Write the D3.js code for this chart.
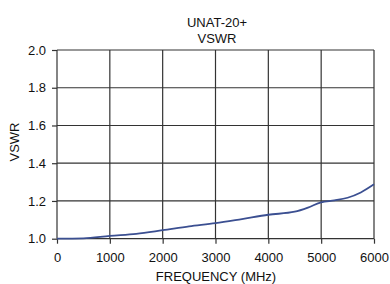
<!DOCTYPE html>
<html><head><meta charset="utf-8">
<script src="https://cdn.jsdelivr.net/npm/d3@7"></script>
<style>body{margin:0;background:#fff}svg{display:block}text{font-family:"Liberation Sans",Arial,sans-serif;fill:#111}</style>
</head><body><svg id="c" width="390" height="284"></svg>
<script>
const freq = [0, 500, 1000, 1500, 2000, 2500, 3000, 3500, 4000, 4500, 4750, 5000, 5250, 5500, 5750, 6000];
const vswr = [1.0, 1.002, 1.015, 1.026, 1.045, 1.065, 1.082, 1.104, 1.127, 1.143, 1.165, 1.193, 1.203, 1.217, 1.245, 1.288];
const xTicks = [0, 1000, 2000, 3000, 4000, 5000, 6000];
const yTicks = [1.0, 1.2, 1.4, 1.6, 1.8, 2.0];
const titleLines = ["UNAT-20+", "VSWR"];

const svg = d3.select("#c");
const x = d3.scaleLinear().domain([0, 6000]).range([57, 374]);
const y = d3.scaleLinear().domain([1.0, 2.0]).range([238.7, 50]);

// grid
svg.append("g").selectAll("line").data(xTicks).join("line")
  .attr("x1", d => x(d)).attr("x2", d => x(d)).attr("y1", y(2.0)).attr("y2", y(1.0))
  .attr("stroke", "#333").attr("stroke-width", 1.2);
svg.append("g").selectAll("line").data(yTicks).join("line")
  .attr("x1", x(0)).attr("x2", x(6000)).attr("y1", d => y(d)).attr("y2", d => y(d))
  .attr("stroke", "#333").attr("stroke-width", 1.2);

// axes
const xa = svg.append("g").attr("transform", `translate(0,${y(1.0)})`)
  .call(d3.axisBottom(x).tickValues(xTicks).tickSize(5).tickPadding(9).tickFormat(d3.format("d")));
const ya = svg.append("g").attr("transform", `translate(${x(0)},0)`)
  .call(d3.axisLeft(y).tickValues(yTicks).tickSize(5).tickPadding(6).tickFormat(d3.format(".1f")));
[xa, ya].forEach(a => {
  a.select(".domain").remove();
  a.selectAll("line").attr("stroke", "#333").attr("stroke-width", 1.2);
  a.selectAll("text").attr("font-size", 13).attr("font-family", "Liberation Sans, Arial, sans-serif").attr("fill", "#111");
});

// curve
svg.append("path").datum(freq.map((f, i) => [f, vswr[i]]))
  .attr("fill", "none").attr("stroke", "#3b4f91").attr("stroke-width", 1.8)
  .attr("d", d3.line().x(d => x(d[0])).y(d => y(d[1])).curve(d3.curveMonotoneX));

// titles
svg.append("g").selectAll("text").data(titleLines).join("text")
  .attr("x", 217).attr("y", (d, i) => 27 + i * 15.5).attr("text-anchor", "middle")
  .attr("font-size", 13).text(d => d);
svg.append("text").attr("x", 216).attr("y", 280.5).attr("text-anchor", "middle")
  .attr("font-size", 13).text("FREQUENCY (MHz)");
svg.append("text").attr("transform", "translate(19,142) rotate(-90)").attr("text-anchor", "middle")
  .attr("font-size", 13).text("VSWR");
</script></body></html>
